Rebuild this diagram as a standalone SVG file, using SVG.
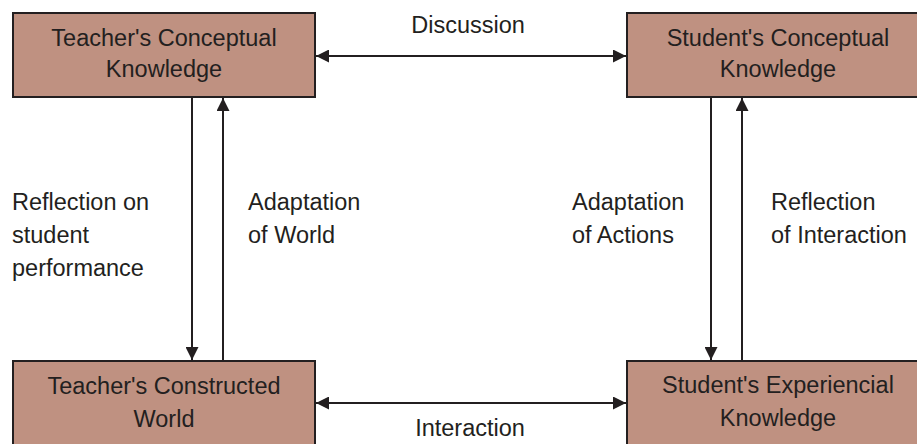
<svg xmlns="http://www.w3.org/2000/svg" width="917" height="444" viewBox="0 0 917 444">
  <defs>
    <style>
      .box { fill: #BF9181; stroke: #231F20; stroke-width: 2; }
      .t { font-family: "Liberation Sans", Arial, sans-serif; font-size: 23.5px; fill: #231F20; }
      .c { text-anchor: middle; }
      .ln { stroke: #231F20; stroke-width: 2; fill: none; }
    </style>
    <marker id="ah" viewBox="0 0 13 13" refX="13" refY="6.5" markerWidth="13" markerHeight="13" markerUnits="userSpaceOnUse" orient="auto-start-reverse">
      <path d="M0,0 L13,6.5 L0,13 Z" fill="#231F20"/>
    </marker>
  </defs>
  <rect width="917" height="444" fill="#FFFFFF"/>

  <g id="teacher-conceptual">
    <rect class="box" x="13" y="13" width="302" height="84"/>
    <text class="t c" x="164" y="46">Teacher's Conceptual</text>
    <text class="t c" x="164" y="77">Knowledge</text>
  </g>
  <g id="student-conceptual">
    <rect class="box" x="627" y="13" width="302" height="84"/>
    <text class="t c" x="778" y="46">Student's Conceptual</text>
    <text class="t c" x="778" y="77">Knowledge</text>
  </g>
  <g id="teacher-constructed">
    <rect class="box" x="13" y="361" width="302" height="100"/>
    <text class="t c" x="164" y="394">Teacher's Constructed</text>
    <text class="t c" x="164" y="427">World</text>
  </g>
  <g id="student-experiencial">
    <rect class="box" x="627" y="361" width="302" height="100"/>
    <text class="t c" x="778" y="393">Student's Experiencial</text>
    <text class="t c" x="778" y="426">Knowledge</text>
  </g>

  <g id="connectors">
    <line class="ln" x1="316" y1="56" x2="626" y2="56" marker-start="url(#ah)" marker-end="url(#ah)"/>
    <line class="ln" x1="316" y1="403" x2="626" y2="403" marker-start="url(#ah)" marker-end="url(#ah)"/>
    <line class="ln" x1="192" y1="98" x2="192" y2="360" marker-end="url(#ah)"/>
    <line class="ln" x1="223" y1="360" x2="223" y2="98" marker-end="url(#ah)"/>
    <line class="ln" x1="711" y1="98" x2="711" y2="360" marker-end="url(#ah)"/>
    <line class="ln" x1="742" y1="360" x2="742" y2="98" marker-end="url(#ah)"/>
  </g>

  <g id="labels">
    <text class="t c" x="468" y="33">Discussion</text>
    <text class="t c" x="470" y="436">Interaction</text>
    <text class="t" x="12" y="210">Reflection on</text>
    <text class="t" x="12" y="243">student</text>
    <text class="t" x="12" y="276">performance</text>
    <text class="t" x="248" y="210">Adaptation</text>
    <text class="t" x="248" y="243">of World</text>
    <text class="t" x="572" y="210">Adaptation</text>
    <text class="t" x="572" y="243">of Actions</text>
    <text class="t" x="771" y="210">Reflection</text>
    <text class="t" x="771" y="243">of Interaction</text>
  </g>
</svg>
